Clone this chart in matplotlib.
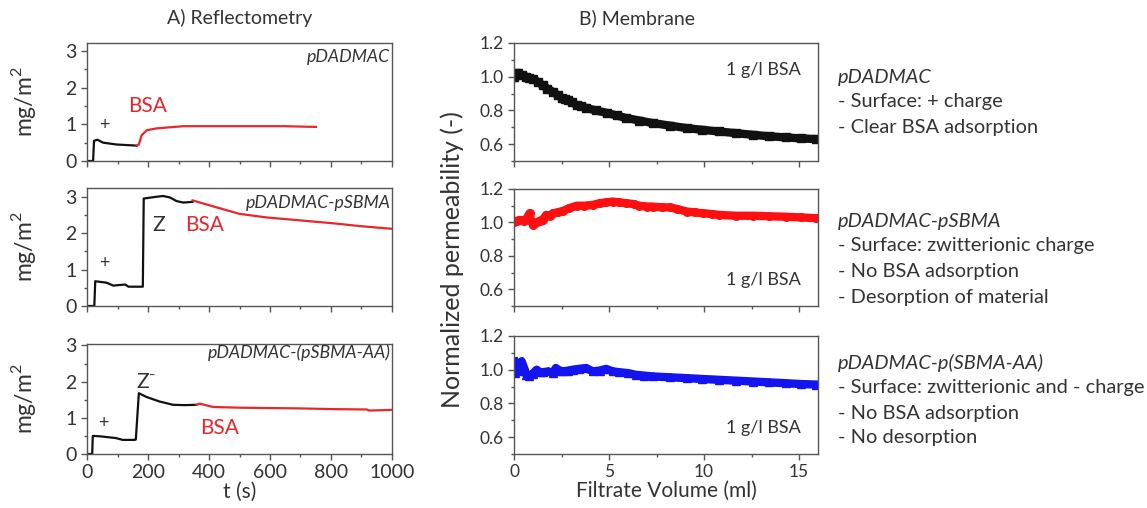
import matplotlib
matplotlib.use("Agg")
import matplotlib.pyplot as plt
from matplotlib.ticker import MultipleLocator

plt.rcParams["font.family"] = ["Lato", "DejaVu Sans"]
plt.rcParams["mathtext.fontset"] = "custom"
plt.rcParams["mathtext.rm"] = "Lato"

# ---- reflectometry data (t in s, adsorbed amount in mg/m2) ----
pdadmac_t = [0, 20, 23, 34, 53, 97, 163]
pdadmac_y = [0, 0, 0.55, 0.58, 0.50, 0.45, 0.42]
pdadmac_bsa_t = [163, 170, 179, 196, 228, 316, 480, 644, 751]
pdadmac_bsa_y = [0.42, 0.45, 0.70, 0.84, 0.89, 0.95, 0.95, 0.95, 0.93]

sbma_t = [0, 24, 27, 64, 86, 125, 136, 174, 183, 186, 228, 250, 272, 294, 316, 346]
sbma_y = [0, 0, 0.68, 0.64, 0.56, 0.59, 0.53, 0.53, 0.53, 2.95, 3.00, 3.02, 2.98, 2.88, 2.84, 2.86]
sbma_bsa_t = [346, 420, 500, 590, 700, 808, 900, 1000]
sbma_bsa_y = [2.90, 2.72, 2.53, 2.43, 2.35, 2.27, 2.19, 2.12]

sbmaaa_t = [0, 17, 19, 41, 95, 117, 156, 160, 170, 194, 238, 282, 320, 359]
sbmaaa_y = [0, 0, 0.50, 0.49, 0.44, 0.39, 0.39, 0.40, 1.68, 1.58, 1.45, 1.36, 1.35, 1.36]
sbmaaa_bsa_t = [359, 370, 413, 500, 589, 700, 808, 918, 925, 1000]
sbmaaa_bsa_y = [1.36, 1.39, 1.30, 1.28, 1.27, 1.26, 1.24, 1.23, 1.20, 1.22]

# ---- membrane data (filtrate volume in ml, normalized permeability) ----
mem1_v = [0, 0.1, 0.2, 0.4, 0.65, 0.8, 1.0, 1.25, 1.5, 1.75, 2.05, 2.3, 2.5, 2.7, 2.85,
          3.05, 3.3, 3.55, 3.8, 4.3, 4.9, 5.4, 5.9, 6.6, 7.3, 8.2, 9.1, 9.9, 10.8, 11.7,
          12.6, 13.4, 14.3, 15.1, 15.9]
mem1_p = [1.00, 1.02, 1.02, 1.01, 1.00, 0.995, 0.985, 0.97, 0.95, 0.93, 0.91, 0.89, 0.875,
          0.865, 0.86, 0.85, 0.83, 0.825, 0.815, 0.80, 0.785, 0.77, 0.755, 0.74, 0.725,
          0.71, 0.695, 0.685, 0.675, 0.665, 0.655, 0.647, 0.64, 0.634, 0.63]

mem2_v = [0, 0.15, 0.3, 0.5, 0.65, 0.75, 0.82, 0.9, 1.0, 1.1, 1.2, 1.35, 1.5, 1.7, 1.9,
          2.05, 2.3, 2.6, 2.9, 3.3, 3.7, 4.15, 4.5, 4.85, 5.2, 5.5, 5.9, 6.3, 6.6, 7.0,
          7.3, 7.8, 8.2, 8.6, 9.1, 9.5, 9.95, 10.4, 10.8, 11.7, 12.6, 13.4, 14.3, 15.1, 15.9]
mem2_p = [1.00, 1.01, 1.015, 1.01, 1.02, 1.04, 1.055, 1.01, 0.985, 0.995, 1.00, 1.01, 1.015,
          1.045, 1.04, 1.055, 1.06, 1.07, 1.085, 1.10, 1.10, 1.105, 1.115, 1.12, 1.125,
          1.12, 1.115, 1.11, 1.10, 1.095, 1.095, 1.09, 1.09, 1.08, 1.065, 1.06, 1.055,
          1.05, 1.045, 1.04, 1.04, 1.037, 1.034, 1.03, 1.025]

mem3_v = [0, 0.05, 0.1, 0.2, 0.3, 0.4, 0.5, 0.6, 0.65, 0.8, 1.0, 1.1, 1.2, 1.35, 1.5,
          1.8, 2.05, 2.2, 2.4, 2.6, 2.85, 3.1, 3.4, 3.8, 4.15, 4.5, 4.85, 5.2, 5.55, 6.0,
          6.4, 6.85, 7.3, 8.2, 9.1, 9.9, 10.8, 11.7, 12.6, 13.4, 14.3, 15.1, 15.9]
mem3_p = [1.05, 0.98, 1.03, 0.99, 1.04, 1.05, 1.02, 0.99, 0.97, 0.965, 0.975, 0.99, 1.00,
          0.985, 0.985, 0.99, 0.98, 1.01, 0.995, 0.99, 0.995, 1.00, 1.005, 1.01, 0.99,
          0.995, 1.005, 0.99, 0.985, 0.98, 0.97, 0.965, 0.96, 0.955, 0.95, 0.945, 0.94,
          0.935, 0.93, 0.925, 0.92, 0.915, 0.912]

BLACK = "#111111"
RED_LINE = "#e8262b"
RED = "#ff1010"
BLUE = "#1414f0"
GRAY = "#333333"
SPINE = "#555555"

W, H = 1147, 508


def box(left, top, right, bottom):
    """Pixel box of the reference -> figure fraction rect."""
    return [left / W, 1 - bottom / H, (right - left) / W, (bottom - top) / H]


def style(ax, size):
    for s in ax.spines.values():
        s.set_color(SPINE)
        s.set_linewidth(1.0)
    ax.tick_params(which="both", direction="out", colors=SPINE,
                   labelcolor=GRAY, labelsize=size, top=False, right=False)
    ax.tick_params(which="major", length=4, width=1)
    ax.tick_params(which="minor", length=2.5, width=1)


fig = plt.figure(figsize=(W / 100, H / 100), dpi=100)

left_boxes = [box(87, 43, 392, 161), box(87, 188, 392, 306), box(87, 344, 392, 454)]
right_boxes = [box(514, 43, 818, 161), box(514, 189, 818, 306), box(514, 336, 818, 454)]
left_ylim = [3.22, 3.24, 3.04]

refl = [
    (pdadmac_t, pdadmac_y, pdadmac_bsa_t, pdadmac_bsa_y),
    (sbma_t, sbma_y, sbma_bsa_t, sbma_bsa_y),
    (sbmaaa_t, sbmaaa_y, sbmaaa_bsa_t, sbmaaa_bsa_y),
]
names = ["pDADMAC", "pDADMAC-pSBMA", "pDADMAC-(pSBMA-AA)"]
name_y = [2.85, 2.82, 2.8]
plus_pos = [(56, 0.98), (56, 1.18), (54, 0.85)]
bsa_pos = [(200, 1.5), (387, 2.22), (435, 0.71)]

for i in range(3):
    ax = fig.add_axes(left_boxes[i])
    t1, y1, t2, y2 = refl[i]
    ax.plot(t1, y1, color=BLACK, lw=1.6)
    ax.plot(t2, y2, color=RED_LINE, lw=1.6)
    ax.set_xlim(0, 1000)
    ax.set_ylim(0, left_ylim[i])
    ax.xaxis.set_major_locator(MultipleLocator(200))
    ax.xaxis.set_minor_locator(MultipleLocator(100))
    ax.yaxis.set_major_locator(MultipleLocator(1))
    ax.yaxis.set_minor_locator(MultipleLocator(0.5))
    style(ax, 14)
    if i < 2:
        ax.tick_params(axis="x", labelbottom=False)
    else:
        ax.set_xlabel("t (s)", fontsize=15, color=GRAY, labelpad=0)
    ax.set_ylabel(r"mg/m$^{2}$", fontsize=16.5, color=GRAY)
    ax.yaxis.set_label_coords(-0.16, 0.5)
    ax.text(995, name_y[i], names[i], ha="right", va="center", style="italic",
            fontsize=12.8, color=GRAY)
    ax.text(*plus_pos[i], "+", ha="center", va="center", fontsize=13, color=GRAY)
    ax.text(*bsa_pos[i], "BSA", ha="center", va="center", fontsize=15, color=RED_LINE)

fig.axes[1].text(234, 2.22, "Z", ha="center", va="center", fontsize=15, color=GRAY)
fig.axes[2].text(194, 1.98, "Z⁻", ha="center", va="center", fontsize=15, color=GRAY)

membrane = [(mem1_v, mem1_p, BLACK, "s"), (mem2_v, mem2_p, RED, "o"), (mem3_v, mem3_p, BLUE, "^")]
bsa_y = [1.04, 0.654, 0.653]
for i in range(3):
    ax = fig.add_axes(right_boxes[i])
    v, p, c, m = membrane[i]
    ax.plot(v, p, color=c, lw=6, marker=m, ms=5.5, mec=c, mfc=c)
    ax.set_xlim(0, 16)
    ax.set_ylim(0.5, 1.2)
    ax.xaxis.set_major_locator(MultipleLocator(5))
    ax.xaxis.set_minor_locator(MultipleLocator(2.5))
    ax.yaxis.set_major_locator(MultipleLocator(0.2))
    ax.yaxis.set_minor_locator(MultipleLocator(0.1))
    ax.yaxis.set_major_formatter(lambda val, pos: f"{val:.1f}")
    style(ax, 12.5)
    if i < 2:
        ax.tick_params(axis="x", labelbottom=False)
    else:
        ax.set_xlabel("Filtrate Volume (ml)", fontsize=15, color=GRAY, labelpad=0)
    ax.text(13.1, bsa_y[i], "1 g/l BSA", ha="center", va="center", fontsize=13, color=GRAY)

fig.text(452 / W, 1 - 260 / H, "Normalized permeability (-)", rotation=90,
         ha="center", va="center", fontsize=18, color=GRAY)
fig.text(240 / W, 1 - 18 / H, "A) Reflectometry", ha="center", va="center",
         fontsize=14, color=GRAY)
fig.text(637 / W, 1 - 18 / H, "B) Membrane", ha="center", va="center",
         fontsize=14, color=GRAY)

notes = [
    (78, "pDADMAC", True), (102, "- Surface: + charge", False),
    (127, "- Clear BSA adsorption", False),
    (222, "pDADMAC-pSBMA", True), (246, "- Surface: zwitterionic charge", False),
    (271, "- No BSA adsorption", False), (297, "- Desorption of material", False),
    (363, "pDADMAC-p(SBMA-AA)", True), (388, "- Surface: zwitterionic and - charge", False),
    (413, "- No BSA adsorption", False), (438, "- No desorption", False),
]
for y, txt, it in notes:
    fig.text(838 / W, 1 - y / H, txt, ha="left", va="center", fontsize=14.4,
             color=GRAY, style="italic" if it else "normal")

fig.savefig("out.png", dpi=100)
